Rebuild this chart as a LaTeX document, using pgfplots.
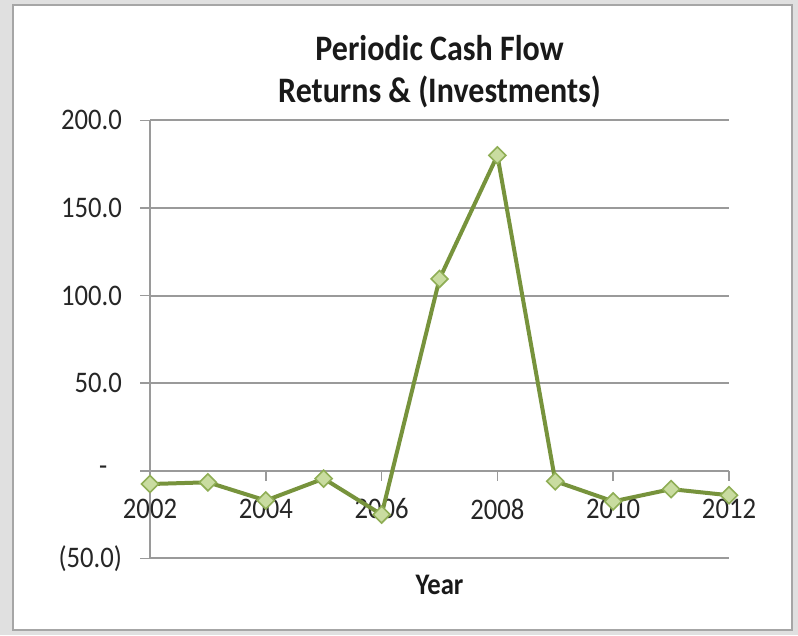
\documentclass[border=0pt]{standalone}
\usepackage{pgfplots}
\pgfplotsset{compat=1.18}
\usepackage{graphicx}
\usepackage{fontspec}
\setmainfont{Carlito}

\definecolor{olive}{HTML}{77933C}
\definecolor{mfill}{HTML}{C9DCA0}
\definecolor{medge}{HTML}{8FAE55}
\definecolor{gridc}{HTML}{9A9A9A}
\newcommand{\vs}[1]{\scalebox{1}[1.12]{#1}}

\begin{document}
\begin{tikzpicture}
% background and chart panel (1px = 0.75pt)
\fill[black!12] (0,0) rectangle (598.5pt,476.25pt);
\filldraw[fill=white, draw=black!35, line width=1pt] (9.75pt,3.75pt) rectangle (594pt,472.5pt);

\begin{axis}[
    at={(112.5pt,57.5pt)}, anchor=south west,
    scale only axis,
    width=434.25pt, height=328.5pt,
    xmin=2002, xmax=2012,
    ymin=-50, ymax=200,
    clip=false,
    axis x line*=middle,
    axis y line*=left,
    hide obscured x ticks=false,
    hide obscured y ticks=false,
    axis line style={gridc, line width=1.5pt},
    xtick={2002,2004,...,2012},
    xticklabels={\vs{2002},\vs{2004},\vs{2006},\vs{2008},\vs{2010},\vs{2012}},
    ytick={-50,0,50,100,150,200},
    yticklabels={\vs{(50.0)},{\vs{-}\rule{11pt}{0pt}},\vs{50.0},\vs{100.0},\vs{150.0},\vs{200.0}},
    tick align=outside,
    major tick length=7.5pt,
    tick style={gridc, line width=1.2pt},
    ymajorgrids,
    major grid style={gridc, line width=1.5pt},
    tick label style={font=\fontsize{20}{24}\selectfont, text=black!85},
    xticklabel style={yshift=-10pt},
    yticklabel style={xshift=-10pt},
    xlabel={\vs{Year}},
    xlabel style={font=\bfseries\fontsize{20}{24}\selectfont, text=black!90, at={(0.5,0)}, anchor=north, yshift=-9pt},
    title={\vs{Periodic Cash Flow}\\\vs{Returns \& (Investments)}},
    title style={align=center, font=\bfseries\fontsize{24}{31}\selectfont, text=black!90, at={(0.5,1)}, anchor=south, yshift=0pt},
]
\addplot[olive, line width=3pt, mark=square*, mark size=4.5pt,
    mark options={fill=mfill, draw=medge, line width=1.2pt, rotate=45}]
coordinates {
    (2002,-7.6) (2003,-6.6) (2004,-17) (2005,-4.5) (2006,-25)
    (2007,109.5) (2008,180) (2009,-6) (2010,-17.5) (2011,-10.5) (2012,-14)
};
\end{axis}
\pgfresetboundingbox
\path (0,0) rectangle (598.5pt,476.25pt);
\end{tikzpicture}
\end{document}
